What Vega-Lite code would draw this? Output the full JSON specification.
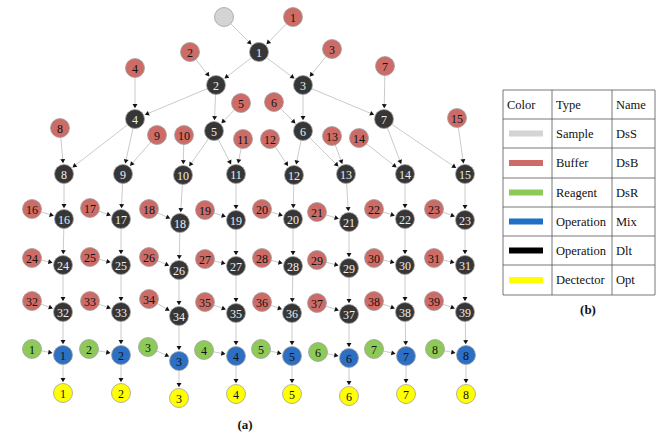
{
"$schema": "https://vega.github.io/schema/vega-lite/v6.json",
"width": 656, "height": 435,
"autosize": {"type": "fit", "contains": "padding"},
"padding": 0,
"background": "white",
"config": {"view": {"stroke": null}, "text": {"font": "'Liberation Serif', 'DejaVu Serif', serif"}},
"datasets": {
"nodes": [
{"id":"S","type":"DsS","label":"","x":224,"y":17},
{"id":"B1","type":"DsB","label":"1","x":293,"y":17},
{"id":"B2","type":"DsB","label":"2","x":190,"y":52},
{"id":"B3","type":"DsB","label":"3","x":332,"y":49},
{"id":"B4","type":"DsB","label":"4","x":135,"y":68},
{"id":"B5","type":"DsB","label":"5","x":241,"y":103},
{"id":"B6","type":"DsB","label":"6","x":274,"y":102},
{"id":"B7","type":"DsB","label":"7","x":385,"y":66},
{"id":"B8","type":"DsB","label":"8","x":60,"y":128},
{"id":"B9","type":"DsB","label":"9","x":157,"y":135},
{"id":"B10","type":"DsB","label":"10","x":184,"y":135},
{"id":"B11","type":"DsB","label":"11","x":243,"y":139},
{"id":"B12","type":"DsB","label":"12","x":270,"y":139},
{"id":"B13","type":"DsB","label":"13","x":332,"y":136},
{"id":"B14","type":"DsB","label":"14","x":359,"y":138},
{"id":"B15","type":"DsB","label":"15","x":457,"y":118},
{"id":"B16","type":"DsB","label":"16","x":32,"y":209},
{"id":"B17","type":"DsB","label":"17","x":90,"y":208},
{"id":"B18","type":"DsB","label":"18","x":149,"y":209},
{"id":"B19","type":"DsB","label":"19","x":205,"y":210},
{"id":"B20","type":"DsB","label":"20","x":262,"y":209},
{"id":"B21","type":"DsB","label":"21","x":317,"y":212},
{"id":"B22","type":"DsB","label":"22","x":374,"y":209},
{"id":"B23","type":"DsB","label":"23","x":434,"y":209},
{"id":"B24","type":"DsB","label":"24","x":32,"y":258},
{"id":"B25","type":"DsB","label":"25","x":90,"y":257},
{"id":"B26","type":"DsB","label":"26","x":149,"y":257},
{"id":"B27","type":"DsB","label":"27","x":205,"y":259},
{"id":"B28","type":"DsB","label":"28","x":262,"y":258},
{"id":"B29","type":"DsB","label":"29","x":317,"y":260},
{"id":"B30","type":"DsB","label":"30","x":374,"y":258},
{"id":"B31","type":"DsB","label":"31","x":434,"y":258},
{"id":"B32","type":"DsB","label":"32","x":32,"y":301},
{"id":"B33","type":"DsB","label":"33","x":90,"y":301},
{"id":"B34","type":"DsB","label":"34","x":149,"y":299},
{"id":"B35","type":"DsB","label":"35","x":205,"y":302},
{"id":"B36","type":"DsB","label":"36","x":262,"y":302},
{"id":"B37","type":"DsB","label":"37","x":317,"y":303},
{"id":"B38","type":"DsB","label":"38","x":374,"y":301},
{"id":"B39","type":"DsB","label":"39","x":434,"y":301},
{"id":"D1","type":"Dlt","label":"1","x":259,"y":52},
{"id":"D2","type":"Dlt","label":"2","x":216,"y":85},
{"id":"D3","type":"Dlt","label":"3","x":303,"y":85},
{"id":"D4","type":"Dlt","label":"4","x":135,"y":119},
{"id":"D5","type":"Dlt","label":"5","x":214,"y":131},
{"id":"D6","type":"Dlt","label":"6","x":303,"y":131},
{"id":"D7","type":"Dlt","label":"7","x":384,"y":119},
{"id":"D8","type":"Dlt","label":"8","x":64,"y":174},
{"id":"D9","type":"Dlt","label":"9","x":123,"y":174},
{"id":"D10","type":"Dlt","label":"10","x":183,"y":175},
{"id":"D11","type":"Dlt","label":"11","x":236,"y":174},
{"id":"D12","type":"Dlt","label":"12","x":294,"y":175},
{"id":"D13","type":"Dlt","label":"13","x":346,"y":174},
{"id":"D14","type":"Dlt","label":"14","x":405,"y":174},
{"id":"D15","type":"Dlt","label":"15","x":465,"y":174},
{"id":"D16","type":"Dlt","label":"16","x":64,"y":219},
{"id":"D17","type":"Dlt","label":"17","x":121,"y":219},
{"id":"D18","type":"Dlt","label":"18","x":180,"y":223},
{"id":"D19","type":"Dlt","label":"19","x":236,"y":220},
{"id":"D20","type":"Dlt","label":"20","x":293,"y":219},
{"id":"D21","type":"Dlt","label":"21","x":349,"y":222},
{"id":"D22","type":"Dlt","label":"22","x":405,"y":219},
{"id":"D23","type":"Dlt","label":"23","x":465,"y":220},
{"id":"D24","type":"Dlt","label":"24","x":63,"y":265},
{"id":"D25","type":"Dlt","label":"25","x":121,"y":265},
{"id":"D26","type":"Dlt","label":"26","x":179,"y":270},
{"id":"D27","type":"Dlt","label":"27","x":236,"y":266},
{"id":"D28","type":"Dlt","label":"28","x":293,"y":266},
{"id":"D29","type":"Dlt","label":"29","x":349,"y":268},
{"id":"D30","type":"Dlt","label":"30","x":405,"y":265},
{"id":"D31","type":"Dlt","label":"31","x":465,"y":265},
{"id":"D32","type":"Dlt","label":"32","x":63,"y":312},
{"id":"D33","type":"Dlt","label":"33","x":121,"y":312},
{"id":"D34","type":"Dlt","label":"34","x":179,"y":316},
{"id":"D35","type":"Dlt","label":"35","x":236,"y":313},
{"id":"D36","type":"Dlt","label":"36","x":292,"y":313},
{"id":"D37","type":"Dlt","label":"37","x":349,"y":314},
{"id":"D38","type":"Dlt","label":"38","x":405,"y":312},
{"id":"D39","type":"Dlt","label":"39","x":465,"y":312},
{"id":"M1","type":"Mix","label":"1","x":63,"y":355},
{"id":"M2","type":"Mix","label":"2","x":121,"y":355},
{"id":"M3","type":"Mix","label":"3","x":179,"y":361},
{"id":"M4","type":"Mix","label":"4","x":236,"y":356},
{"id":"M5","type":"Mix","label":"5","x":292,"y":356},
{"id":"M6","type":"Mix","label":"6","x":349,"y":358},
{"id":"M7","type":"Mix","label":"7","x":406,"y":356},
{"id":"M8","type":"Mix","label":"8","x":466,"y":355},
{"id":"R1","type":"DsR","label":"1","x":32,"y":349},
{"id":"R2","type":"DsR","label":"2","x":89,"y":349},
{"id":"R3","type":"DsR","label":"3","x":148,"y":347},
{"id":"R4","type":"DsR","label":"4","x":204,"y":350},
{"id":"R5","type":"DsR","label":"5","x":261,"y":349},
{"id":"R6","type":"DsR","label":"6","x":318,"y":352},
{"id":"R7","type":"DsR","label":"7","x":374,"y":349},
{"id":"R8","type":"DsR","label":"8","x":435,"y":349},
{"id":"O1","type":"Opt","label":"1","x":63,"y":393},
{"id":"O2","type":"Opt","label":"2","x":121,"y":393},
{"id":"O3","type":"Opt","label":"3","x":179,"y":398},
{"id":"O4","type":"Opt","label":"4","x":236,"y":394},
{"id":"O5","type":"Opt","label":"5","x":292,"y":394},
{"id":"O6","type":"Opt","label":"6","x":349,"y":396},
{"id":"O7","type":"Opt","label":"7","x":406,"y":394},
{"id":"O8","type":"Opt","label":"8","x":466,"y":394}
],
"edges": [
{"s":"S","t":"D1"},{"s":"B1","t":"D1"},{"s":"D1","t":"D2"},{"s":"D1","t":"D3"},{"s":"B2","t":"D2"},{"s":"B3","t":"D3"},
{"s":"D2","t":"D4"},{"s":"D2","t":"D5"},{"s":"B4","t":"D4"},{"s":"B5","t":"D5"},
{"s":"D3","t":"D6"},{"s":"D3","t":"D7"},{"s":"B6","t":"D6"},{"s":"B7","t":"D7"},
{"s":"D4","t":"D8"},{"s":"D4","t":"D9"},{"s":"B8","t":"D8"},{"s":"B9","t":"D9"},
{"s":"D5","t":"D10"},{"s":"D5","t":"D11"},{"s":"B10","t":"D10"},{"s":"B11","t":"D11"},
{"s":"D6","t":"D12"},{"s":"D6","t":"D13"},{"s":"B12","t":"D12"},{"s":"B13","t":"D13"},
{"s":"D7","t":"D14"},{"s":"D7","t":"D15"},{"s":"B14","t":"D14"},{"s":"B15","t":"D15"},
{"s":"D8","t":"D16"},{"s":"D9","t":"D17"},{"s":"D10","t":"D18"},{"s":"D11","t":"D19"},{"s":"D12","t":"D20"},{"s":"D13","t":"D21"},{"s":"D14","t":"D22"},{"s":"D15","t":"D23"},
{"s":"D16","t":"D24"},{"s":"D17","t":"D25"},{"s":"D18","t":"D26"},{"s":"D19","t":"D27"},{"s":"D20","t":"D28"},{"s":"D21","t":"D29"},{"s":"D22","t":"D30"},{"s":"D23","t":"D31"},
{"s":"D24","t":"D32"},{"s":"D25","t":"D33"},{"s":"D26","t":"D34"},{"s":"D27","t":"D35"},{"s":"D28","t":"D36"},{"s":"D29","t":"D37"},{"s":"D30","t":"D38"},{"s":"D31","t":"D39"},
{"s":"B16","t":"D16"},{"s":"B17","t":"D17"},{"s":"B18","t":"D18"},{"s":"B19","t":"D19"},{"s":"B20","t":"D20"},{"s":"B21","t":"D21"},{"s":"B22","t":"D22"},{"s":"B23","t":"D23"},
{"s":"B24","t":"D24"},{"s":"B25","t":"D25"},{"s":"B26","t":"D26"},{"s":"B27","t":"D27"},{"s":"B28","t":"D28"},{"s":"B29","t":"D29"},{"s":"B30","t":"D30"},{"s":"B31","t":"D31"},
{"s":"B32","t":"D32"},{"s":"B33","t":"D33"},{"s":"B34","t":"D34"},{"s":"B35","t":"D35"},{"s":"B36","t":"D36"},{"s":"B37","t":"D37"},{"s":"B38","t":"D38"},{"s":"B39","t":"D39"},
{"s":"D32","t":"M1"},{"s":"D33","t":"M2"},{"s":"D34","t":"M3"},{"s":"D35","t":"M4"},{"s":"D36","t":"M5"},{"s":"D37","t":"M6"},{"s":"D38","t":"M7"},{"s":"D39","t":"M8"},
{"s":"R1","t":"M1"},{"s":"R2","t":"M2"},{"s":"R3","t":"M3"},{"s":"R4","t":"M4"},{"s":"R5","t":"M5"},{"s":"R6","t":"M6"},{"s":"R7","t":"M7"},{"s":"R8","t":"M8"},
{"s":"M1","t":"O1"},{"s":"M2","t":"O2"},{"s":"M3","t":"O3"},{"s":"M4","t":"O4"},{"s":"M5","t":"O5"},{"s":"M6","t":"O6"},{"s":"M7","t":"O7"},{"s":"M8","t":"O8"}
],
"grid": [
{"xa":503,"ya":90,"xb":655,"yb":90},
{"xa":503,"ya":119,"xb":655,"yb":119},
{"xa":503,"ya":148,"xb":655,"yb":148},
{"xa":503,"ya":178,"xb":655,"yb":178},
{"xa":503,"ya":207,"xb":655,"yb":207},
{"xa":503,"ya":236,"xb":655,"yb":236},
{"xa":503,"ya":265,"xb":655,"yb":265},
{"xa":503,"ya":295,"xb":655,"yb":295},
{"xa":503,"ya":90,"xb":503,"yb":295},
{"xa":552,"ya":90,"xb":552,"yb":295},
{"xa":612,"ya":90,"xb":612,"yb":295},
{"xa":655,"ya":90,"xb":655,"yb":295}
],
"legend": [
{"type":"DsS","Type":"Sample","Name":"DsS","y":133.5},
{"type":"DsB","Type":"Buffer","Name":"DsB","y":163},
{"type":"DsR","Type":"Reagent","Name":"DsR","y":192.5},
{"type":"Mix","Type":"Operation","Name":"Mix","y":221.5},
{"type":"Dlt","Type":"Operation","Name":"Dlt","y":250.5},
{"type":"Opt","Type":"Dectector","Name":"Opt","y":280}
],
"captions": [
{"t":"(a)","x":245,"y":425},
{"t":"(b)","x":588,"y":310}
]
},
"layer": [
{
"data": {"name": "edges"},
"transform": [
{"lookup":"s","from":{"data":{"name":"nodes"},"key":"id","fields":["x","y"]},"as":["sx","sy"]},
{"lookup":"t","from":{"data":{"name":"nodes"},"key":"id","fields":["x","y"]},"as":["tx","ty"]},
{"calculate":"datum.tx-datum.sx","as":"dx"},
{"calculate":"datum.ty-datum.sy","as":"dy"},
{"calculate":"sqrt(datum.dx*datum.dx+datum.dy*datum.dy)","as":"L"},
{"calculate":"datum.tx-datum.dx/datum.L*12","as":"ex"},
{"calculate":"datum.ty-datum.dy/datum.L*12","as":"ey"},
{"calculate":"datum.tx-datum.dx/datum.L*13.5","as":"ax"},
{"calculate":"datum.ty-datum.dy/datum.L*13.5","as":"ay"},
{"calculate":"atan2(datum.dx,-datum.dy)*180/PI","as":"ang"}
],
"layer": [
{
"mark": {"type":"rule","color":"#c4c4c4","strokeWidth":0.9},
"encoding": {
"x": {"field":"sx","type":"quantitative","scale":{"domain":[0,656],"nice":false,"zero":false},"axis":null},
"y": {"field":"sy","type":"quantitative","scale":{"domain":[0,435],"reverse":true,"nice":false,"zero":false},"axis":null},
"x2": {"field":"ex"},
"y2": {"field":"ey"}
}
},
{
"mark": {"type":"point","shape":"triangle","filled":true,"color":"#111111","size":24,"opacity":1},
"encoding": {
"x": {"field":"ax","type":"quantitative"},
"y": {"field":"ay","type":"quantitative"},
"angle": {"field":"ang","type":"quantitative","scale":null}
}
}
]
},
{
"data": {"name": "nodes"},
"mark": {"type":"point","shape":"circle","filled":true,"size":360,"stroke":"#a0a0a0","strokeWidth":0.8,"opacity":1},
"encoding": {
"x": {"field":"x","type":"quantitative"},
"y": {"field":"y","type":"quantitative"},
"fill": {"field":"type","type":"nominal","legend":null,
 "scale":{"domain":["DsS","DsB","DsR","Mix","Dlt","Opt"],"range":["#d4d4d4","#cd6c67","#8dca58","#2d6fc2","#363636","#ffff00"]}}
}
},
{
"data": {"name": "nodes"},
"transform": [{"filter":"datum.label != ''"}],
"mark": {"type":"text","fontSize":12,"align":"center","baseline":"middle","dy":1},
"encoding": {
"x": {"field":"x","type":"quantitative"},
"y": {"field":"y","type":"quantitative"},
"text": {"field":"label"},
"color": {"condition":{"test":"datum.type=='Dlt'","value":"#eeeeee"},"value":"#111111"},
"fontWeight": {"condition":{"test":"datum.type=='DsB' && toNumber(datum.label)<=4","value":"bold"},"value":"normal"}
}
},
{
"data": {"name": "grid"},
"mark": {"type":"rule","color":"#555555","strokeWidth":0.8},
"encoding": {
"x": {"field":"xa","type":"quantitative"},
"y": {"field":"ya","type":"quantitative"},
"x2": {"field":"xb"},
"y2": {"field":"yb"}
}
},
{
"data": {"name": "legend"},
"mark": {"type":"rule","strokeWidth":6,"strokeCap":"butt"},
"encoding": {
"x": {"datum":509,"type":"quantitative"},
"x2": {"datum":543},
"y": {"field":"y","type":"quantitative"},
"stroke": {"field":"type","type":"nominal","legend":null,
 "scale":{"domain":["DsS","DsB","DsR","Mix","Dlt","Opt"],"range":["#d4d4d4","#cd6c67","#8dca58","#1f6fc6","#000000","#ffff00"]}}
}
},
{
"data": {"name": "legend"},
"mark": {"type":"text","fontSize":12.5,"align":"left","baseline":"middle","color":"#111111"},
"encoding": {
"x": {"datum":556,"type":"quantitative"},
"y": {"field":"y","type":"quantitative"},
"text": {"field":"Type"}
}
},
{
"data": {"name": "legend"},
"mark": {"type":"text","fontSize":12.5,"align":"left","baseline":"middle","color":"#111111"},
"encoding": {
"x": {"datum":616,"type":"quantitative"},
"y": {"field":"y","type":"quantitative"},
"text": {"field":"Name"}
}
},
{
"data": {"values":[{"t":"Color","x":507},{"t":"Type","x":556},{"t":"Name","x":616}]},
"mark": {"type":"text","fontSize":12.5,"align":"left","baseline":"middle","color":"#111111"},
"encoding": {
"x": {"field":"x","type":"quantitative"},
"y": {"datum":105,"type":"quantitative"},
"text": {"field":"t"}
}
},
{
"data": {"name": "captions"},
"mark": {"type":"text","fontSize":13,"fontWeight":"bold","align":"center","baseline":"middle","color":"#111111"},
"encoding": {
"x": {"field":"x","type":"quantitative"},
"y": {"field":"y","type":"quantitative"},
"text": {"field":"t"}
}
}
]
}
